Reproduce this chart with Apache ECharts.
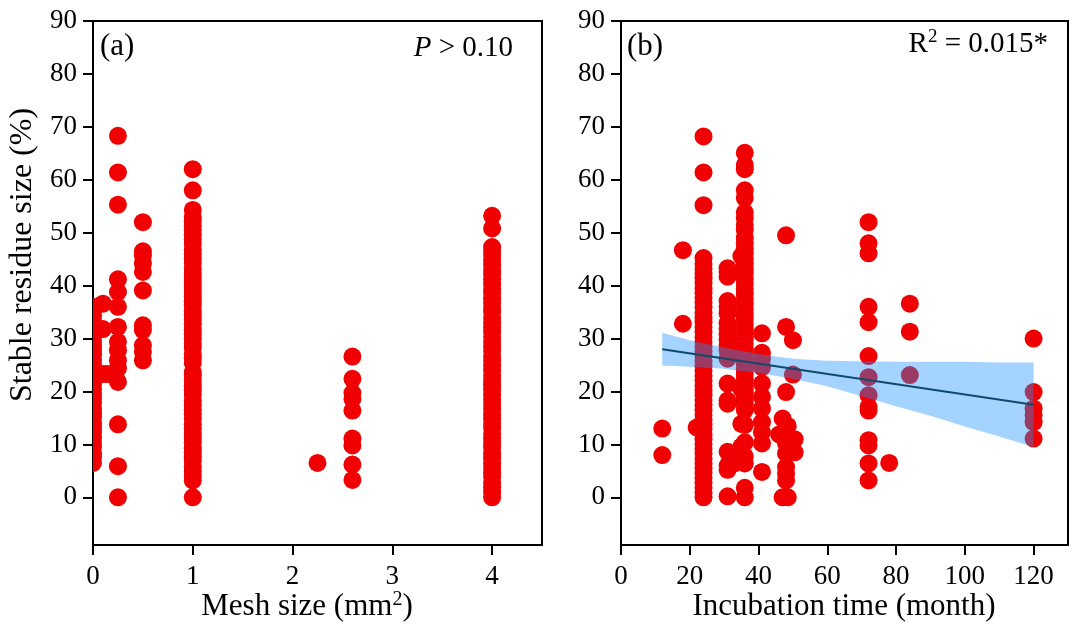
<!DOCTYPE html>
<html>
<head>
<meta charset="utf-8">
<title>Stable residue size</title>
<script src="https://cdn.jsdelivr.net/npm/echarts@6/dist/echarts.min.js"></script>
<style>
    html, body { margin: 0; padding: 0; background: #fff; }
    #main { width: 1074px; height: 628px; }
</style>
</head>
<body>
<div id="main"></div>
<script>
// ---- data ----
var yTicks = [0, 10, 20, 30, 40, 50, 60, 70, 80, 90];
var meshTicks = [0, 1, 2, 3, 4];
var timeTicks = [0, 20, 40, 60, 80, 100, 120];

// panel (a): mesh size (mm2) groups -> stable residue size (%)
var mesh0 = [6.5, 7.6, 8.4, 9.5, 10.3, 11.2, 12.3, 13.1, 14.0, 15.1, 15.9, 16.8, 17.9, 18.7, 19.6, 20.5, 21.4, 22.3,
    23.4, 24.2, 25.1, 26.0, 27.0, 27.8, 28.7, 29.6, 30.6, 31.4, 32.3, 33.2, 34.2, 35.1, 36.0];
var meshNear0 = [[0.1, 36.6], [0.1, 31.8], [0.05, 23.3], [0.1, 23.3], [0.14, 23.3]];
var mesh025 = [0, 5.9, 13.8, 21.8, 24.4, 25.9, 27.8, 29.4, 32.2, 36.0, 38.8, 41.2, 55.3, 61.4, 68.3];
var mesh05 = [25.9, 27.5, 28.7, 31.6, 32.5, 39.1, 42.6, 44.2, 45.7, 46.5, 52.0];
var mesh1 = [0, 3.2, 4.1, 5.0, 5.8, 6.9, 7.6, 8.5, 9.3, 10.4, 11.2, 12.1, 13.0, 13.8, 14.9, 15.7, 16.6, 17.5, 18.3,
    19.4, 20.2, 21.0, 22.1, 23.0, 23.6, 25.4, 26.3, 27.1, 28.2, 29.0, 29.9, 30.8, 31.6, 32.7, 33.5, 34.4, 35.2,
    36.3, 37.1, 38.0, 38.9, 39.8, 40.6, 41.5, 42.4, 43.2, 44.3, 45.1, 46.0, 46.8, 47.9, 48.7, 49.6, 50.4, 51.3,
    52.2, 53.0, 54.3, 58.0, 62.0];
var mesh225 = [6.5];
var mesh26 = [3.3, 6.2, 9.8, 11.1, 16.4, 18.6, 19.7, 22.4, 26.6];
var mesh4 = [0, 1.0, 1.9, 2.8, 3.9, 4.7, 5.6, 6.5, 7.4, 8.3, 9.4, 10.2, 11.1, 12.0, 13.1, 13.9, 14.8, 15.7, 16.7,
    17.5, 18.4, 19.3, 20.4, 21.2, 22.1, 23.0, 24.0, 24.9, 25.8, 26.6, 27.7, 28.5, 29.4, 30.3, 31.3, 32.1, 33.0,
    33.9, 35.0, 35.8, 36.7, 37.6, 38.6, 39.4, 40.3, 41.2, 42.2, 43.0, 43.9, 44.8, 45.8, 46.6, 47.3, 50.8, 53.2];

// panel (b): incubation time (month) -> stable residue size (%)
var time12 = [8.0, 13.0];
var time18 = [32.8, 46.7];
var time22 = [13.2];
var time24 = [0, 0.9, 1.8, 2.7, 3.7, 4.6, 5.5, 6.4, 7.3, 8.3, 9.2, 10.1, 11.0, 11.9, 12.9, 13.8, 14.7, 15.6, 16.5,
    17.5, 18.4, 19.3, 20.2, 21.1, 22.1, 23.0, 23.9, 24.8, 25.7, 26.7, 27.6, 28.5, 29.4, 30.3, 31.3, 32.2, 33.1,
    34.0, 34.9, 35.9, 36.8, 37.7, 38.6, 39.5, 40.5, 41.4, 42.3, 43.2, 44.1, 45.2, 55.2, 61.4, 68.2];
var time31 = [0.2, 5.2, 6.0, 8.6, 17.7, 18.3, 21.5, 26.2, 27.8, 28.7, 29.8, 30.8, 31.9, 32.9, 34.8, 36.0, 37.1,
    41.7, 42.6, 43.3];
var time33 = [6.4, 8.3];
var time36 = [0, 1.8, 6.4, 7.7, 10.4, 13.7, 16.5, 17.6, 18.5, 19.5, 20.4, 21.4, 22.3, 23.3, 24.2, 25.2, 26.1,
    27.1, 28.0, 29.0, 29.9, 30.9, 31.8, 32.8, 33.7, 34.7, 35.6, 36.6, 37.5, 38.5, 39.4, 40.4, 41.3, 42.3, 43.2,
    44.2, 45.1, 46.1, 47.0, 48.0, 49.0, 50.5, 51.5, 52.8, 53.8, 56.6, 58.0, 62.0, 62.8, 65.1];
var time35 = [9.6, 13.9, 20.5, 27.5, 45.6];
var time41 = [4.8, 10.2, 12.3, 14.2, 16.8, 19.0, 21.5, 24.6, 26.2, 27.3, 31.0];
var time48 = [[47, 0], [48.5, 0], [48, 3.2], [48, 4.5], [48, 5.7], [48, 8.3], [50.5, 8.5], [48, 10.2],
    [50.5, 11.0], [46, 11.9], [48.5, 13.5], [47, 14.9], [48, 19.9], [50, 23.2], [50, 29.7], [48, 32.2], [48, 49.5]];
var time72 = [3.2, 6.4, 9.8, 10.8, 16.4, 17.1, 19.3, 22.7, 26.7, 33.1, 36.0, 46.1, 48.0, 52.0];
var time78 = [6.5];
var time84 = [23.1, 31.3, 36.6];
var time120 = [11.1, 14.2, 15.5, 16.8, 19.9, 30.0];

// fitted line and its confidence band
var fitX = [12, 120];
var fitY = [28.0, 17.5];
var bandX = [12, 20, 30, 40, 50, 60, 70, 80, 90, 100, 110, 120];
var bandUpper = [31.1, 29.7, 28.3, 27.1, 26.2, 25.8, 25.7, 25.6, 25.6, 25.6, 25.5, 25.5];
var bandLower = [24.9, 24.7, 24.3, 23.5, 22.4, 21.0, 19.1, 17.2, 15.4, 13.4, 11.5, 9.5];

// ---- build series data ----
function col(x, ys) {
    return ys.map(function (y) { return [x, y]; });
}
var meshData = [].concat(
    col(0, mesh0), meshNear0, col(0.25, mesh025), col(0.5, mesh05), col(1, mesh1),
    col(2.25, mesh225), col(2.6, mesh26), col(4, mesh4)
);
var timeData = [].concat(
    col(12, time12), col(18, time18), col(22, time22), col(24, time24), col(31, time31), col(33, time33),
    col(36, time36), col(35, time35), col(41, time41), time48, col(72, time72), col(78, time78),
    col(84, time84), col(120, time120)
);
var fitData = fitX.map(function (x, i) { return [x, fitY[i]]; });
var bandData = bandX.map(function (x, i) { return [x, bandLower[i], bandUpper[i]]; });

var FONT = "'Liberation Serif', 'Times New Roman', serif";
var RED = '#f00000';

function yAxisOf(idx) {
    return {
        gridIndex: idx, type: 'value', min: -9, max: 90,
        axisLine: { show: true, lineStyle: { color: '#000', width: 2 } },
        axisTick: { show: true, inside: false, length: 10, customValues: yTicks, lineStyle: { color: '#000', width: 2 } },
        axisLabel: { customValues: yTicks, margin: 16, color: '#000', fontFamily: FONT, fontSize: 27 },
        splitLine: { show: false }
    };
}
function xAxisOf(idx, max, ticks) {
    return {
        gridIndex: idx, type: 'value', min: 0, max: max,
        axisLine: { show: true, onZero: false, lineStyle: { color: '#000', width: 2 } },
        axisTick: { show: true, inside: false, length: 10, customValues: ticks, lineStyle: { color: '#000', width: 2 } },
        axisLabel: { customValues: ticks, margin: 18, color: '#000', fontFamily: FONT, fontSize: 27 },
        splitLine: { show: false }
    };
}

var chart = echarts.init(document.getElementById('main'));
var option = {
    backgroundColor: '#fff',
    animation: false,
    grid: [
        { left: 93, top: 21, width: 449, height: 524, show: true, borderColor: '#000', borderWidth: 2 },
        { left: 621, top: 21, width: 447, height: 524, show: true, borderColor: '#000', borderWidth: 2 }
    ],
    xAxis: [xAxisOf(0, 4.5, meshTicks), xAxisOf(1, 130, timeTicks)],
    yAxis: [yAxisOf(0), yAxisOf(1)],
    graphic: [
        { type: 'text', left: 100, top: 31, style: { text: '(a)', font: '31px ' + FONT, fill: '#000' } },
        { type: 'text', left: 627, top: 31, style: { text: '(b)', font: '31px ' + FONT, fill: '#000' } },
        {
            type: 'text', right: 561, top: 34,
            style: {
                text: '{i|P} > 0.10', font: '29px ' + FONT, fill: '#000',
                rich: { i: { fontStyle: 'italic', fontFamily: FONT, fontSize: 29 } }
            }
        },
        {
            type: 'text', right: 26, top: 28,
            style: {
                text: 'R{s|2} = 0.015*', font: '29px ' + FONT, fill: '#000',
                rich: { s: { fontFamily: FONT, fontSize: 19, verticalAlign: 'top', padding: [0, 0, 13, 0] } }
            }
        },
        {
            type: 'text', x: 307, y: 607,
            style: {
                text: 'Mesh size (mm{s|2})', font: '31px ' + FONT, fill: '#000', align: 'center', verticalAlign: 'middle',
                rich: { s: { fontFamily: FONT, fontSize: 20, padding: [0, 0, 15, 0] } }
            }
        },
        {
            type: 'text', x: 844, y: 607,
            style: { text: 'Incubation time (month)', font: '31px ' + FONT, fill: '#000', align: 'center', verticalAlign: 'middle' }
        },
        {
            type: 'text', x: 23, y: 255, rotation: Math.PI / 2,
            style: { text: 'Stable residue size (%)', font: '32px ' + FONT, fill: '#000', align: 'center', verticalAlign: 'middle' }
        }
    ],
    series: [
        {
            // custom circles so markers are cut at the frame like the original
            type: 'custom', xAxisIndex: 0, yAxisIndex: 0, data: meshData, z: 2, clip: true,
            encode: { x: 0, y: 1 },
            renderItem: function (params, api) {
                var p = api.coord([api.value(0), api.value(1)]);
                return { type: 'circle', shape: { cx: p[0], cy: p[1], r: 9 }, style: { fill: RED } };
            }
        },
        {
            type: 'scatter', xAxisIndex: 1, yAxisIndex: 1, data: timeData, z: 2,
            symbol: 'circle', symbolSize: 18, itemStyle: { color: RED, opacity: 1 }
        },
        {
            type: 'custom', xAxisIndex: 1, yAxisIndex: 1, data: bandData, z: 5,
            encode: { x: 0, y: [1, 2] },
            renderItem: function (params, api) {
                if (params.dataIndexInside !== 0) return null;
                var n = params.dataInsideLength;
                var pts = [];
                for (var i = 0; i < n; i++) pts.push(api.coord([api.value(0, i), api.value(2, i)]));
                for (var j = n - 1; j >= 0; j--) pts.push(api.coord([api.value(0, j), api.value(1, j)]));
                return { type: 'polygon', shape: { points: pts }, style: { fill: 'rgba(30,144,255,0.4)' } };
            }
        },
        {
            type: 'line', xAxisIndex: 1, yAxisIndex: 1, data: fitData, z: 6,
            symbol: 'none', lineStyle: { color: '#0f4a68', width: 2 }
        }
    ]
};
chart.setOption(option);
</script>
</body>
</html>
